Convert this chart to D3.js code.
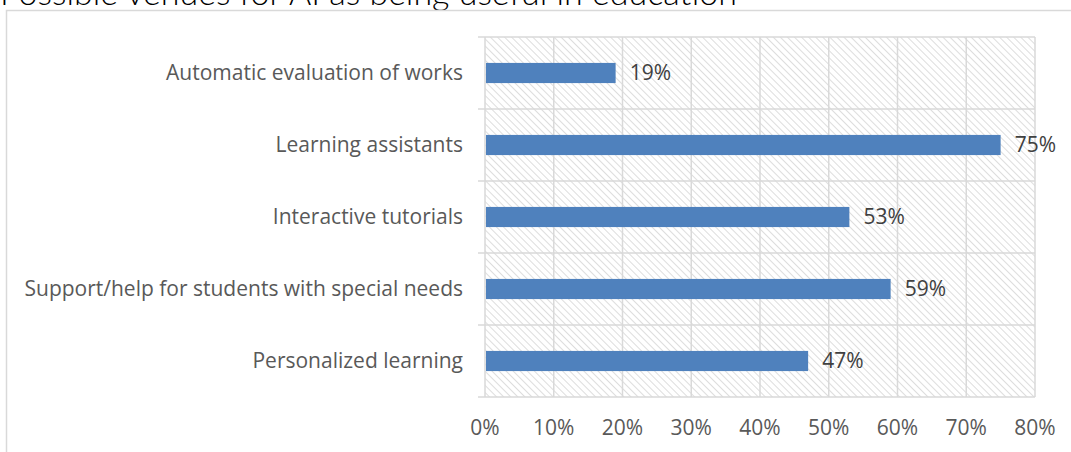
<!DOCTYPE html>
<html>
<head>
<meta charset="utf-8">
<script src="https://cdn.jsdelivr.net/npm/d3@7"></script>
<style>
  body { margin: 0; background: #fff; overflow: hidden; }
  svg { display: block; }
</style>
</head>
<body>
<svg id="chart" width="1071" height="452"></svg>
<script>
// data
var categories = ["Automatic evaluation of works", "Learning assistants", "Interactive tutorials",
  "Support/help for students with special needs", "Personalized learning"];
var values = [19, 75, 53, 59, 47];
var tickValues = [0, 10, 20, 30, 40, 50, 60, 70, 80];
var title = "Possible venues for AI as being useful in education";

var svg = d3.select("#chart");
var font = "'Open Sans', sans-serif";
var fs = 21;

var plotL = 485, plotR = 1035, plotT = 37, plotB = 397;

// hatch pattern for plot background
var defs = svg.append("defs");
var pat = defs.append("pattern")
  .attr("id", "hatch")
  .attr("patternUnits", "userSpaceOnUse")
  .attr("width", 5).attr("height", 5)
  .attr("patternTransform", "rotate(-45)");
pat.append("rect").attr("width", 5).attr("height", 5).attr("fill", "#fff");
pat.append("line")
  .attr("x1", 0).attr("y1", 0).attr("x2", 0).attr("y2", 5)
  .attr("stroke", "#d9d9d9").attr("stroke-width", 1.8);

// title (cut off at the top)
svg.append("text")
  .attr("x", 0).attr("y", 5)
  .attr("font-family", "Lato, sans-serif")
  .attr("font-weight", 300)
  .attr("font-size", 34)
  .attr("fill", "#000")
  .text(title);

// outer chart border
svg.append("rect")
  .attr("x", 6.5).attr("y", 10.5)
  .attr("width", 1100).attr("height", 500)
  .attr("fill", "none")
  .attr("stroke", "#d9d9d9").attr("stroke-width", 1.5);

var x = d3.scaleLinear().domain([0, 80]).range([plotL, plotR]);
var y = d3.scaleBand().domain(categories).range([plotT, plotB]).paddingInner(0.72).paddingOuter(0.36);
var yBand = d3.scaleBand().domain(categories).range([plotT, plotB]);

svg.append("rect")
  .attr("x", plotL).attr("y", plotT)
  .attr("width", plotR - plotL).attr("height", plotB - plotT)
  .attr("fill", "url(#hatch)");

// vertical gridlines
svg.append("g").selectAll("line")
  .data(tickValues.slice(1))
  .enter().append("line")
  .attr("x1", d => x(d)).attr("x2", d => x(d))
  .attr("y1", plotT).attr("y2", plotB)
  .attr("stroke", "#d9d9d9").attr("stroke-width", 1.5);

// horizontal category boundaries (with small outer tick)
var bounds = categories.map(c => yBand(c));
svg.append("g").selectAll("line")
  .data(bounds)
  .enter().append("line")
  .attr("x1", plotL - 7).attr("x2", plotR)
  .attr("y1", d => d).attr("y2", d => d)
  .attr("stroke", "#d9d9d9").attr("stroke-width", 1.5);

// value axis line at bottom and left axis line
svg.append("line")
  .attr("x1", plotL - 7).attr("x2", plotR)
  .attr("y1", plotB).attr("y2", plotB)
  .attr("stroke", "#d9d9d9").attr("stroke-width", 1.5);
svg.append("line")
  .attr("x1", plotL).attr("x2", plotL)
  .attr("y1", plotT).attr("y2", plotB)
  .attr("stroke", "#d9d9d9").attr("stroke-width", 1.5);

// bars
svg.append("g").selectAll("rect")
  .data(values)
  .enter().append("rect")
  .attr("x", x(0) + 1)
  .attr("y", (d, i) => y(categories[i]))
  .attr("width", d => x(d) - x(0) - 1)
  .attr("height", y.bandwidth())
  .attr("fill", "#4f81bd");

// value labels
svg.append("g").selectAll("text")
  .data(values)
  .enter().append("text")
  .attr("x", d => x(d) + 14)
  .attr("y", (d, i) => y(categories[i]) + y.bandwidth() / 2)
  .attr("dy", "0.35em")
  .attr("font-family", font).attr("font-size", fs)
  .attr("fill", "#404040")
  .text(d => d + "%");

// category labels
svg.append("g").selectAll("text")
  .data(categories)
  .enter().append("text")
  .attr("x", plotL - 22)
  .attr("y", d => y(d) + y.bandwidth() / 2)
  .attr("dy", "0.35em")
  .attr("text-anchor", "end")
  .attr("font-family", font).attr("font-size", fs)
  .attr("fill", "#595959")
  .text(d => d);

// tick labels
svg.append("g").selectAll("text")
  .data(tickValues)
  .enter().append("text")
  .attr("x", d => x(d))
  .attr("y", 428)
  .attr("dy", "0.35em")
  .attr("text-anchor", "middle")
  .attr("font-family", font).attr("font-size", fs)
  .attr("fill", "#595959")
  .text(d => d + "%");
</script>
</body>
</html>
